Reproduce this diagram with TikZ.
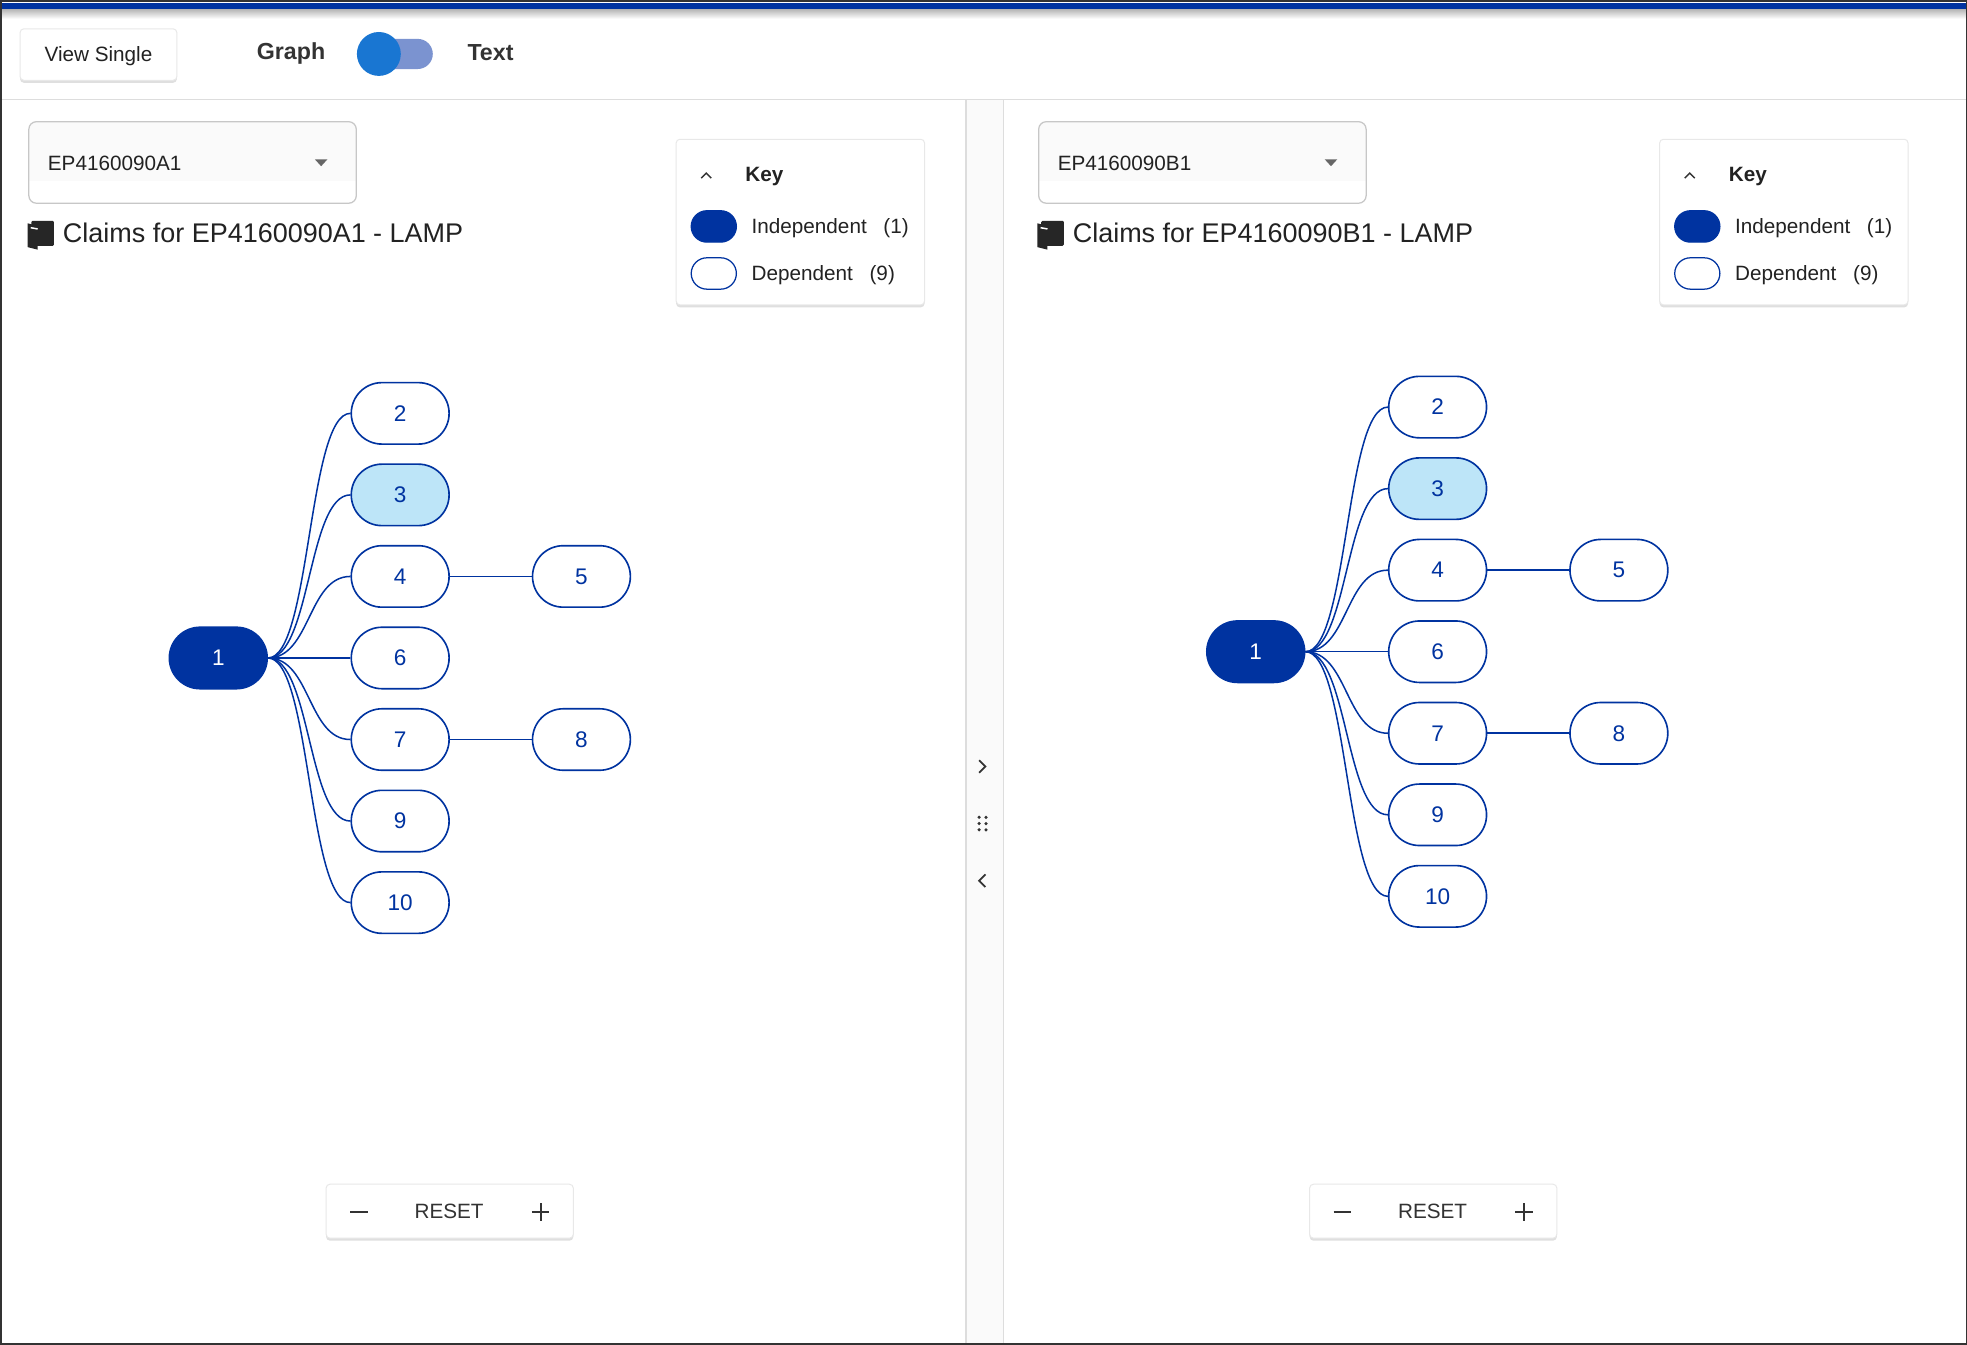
\documentclass[tikz,border=0pt]{standalone}
\usepackage{fontspec}
\setmainfont{Liberation Sans}
\usepackage{tikz}
\usetikzlibrary{shadows}
\definecolor{claimblue}{HTML}{0033A0}
\definecolor{claimlight}{HTML}{BDE5F8}
\definecolor{knobblue}{HTML}{1976D2}
\definecolor{trackblue}{HTML}{7B93D0}
\definecolor{uigray}{HTML}{DDDDDD}
\definecolor{uitext}{HTML}{222222}
\tikzset{claim/.style={draw=claimblue,line width=1.3pt,fill=white,rounded corners=24.5pt,
    minimum width=78pt,minimum height=49pt,inner sep=0pt,text=claimblue,font=\fontsize{18}{20}\selectfont}}
\tikzset{indep/.style={claim,fill=claimblue,text=white}}
\tikzset{hilite/.style={claim,fill=claimlight}}
\tikzset{swatch/.style={draw=claimblue,line width=1pt,rounded corners=12.5pt,minimum width=36pt,minimum height=25pt,inner sep=0pt}}
\tikzset{link/.style={draw=claimblue,line width=1.2pt}}
\tikzset{card/.style={fill=white,draw=black!9,line width=0.8pt,rounded corners=3pt,drop shadow={opacity=0.25,shadow xshift=0pt,shadow yshift=-2pt}}}
\tikzset{ui label/.style={inner sep=0pt,text=uitext,font=\fontsize{16.5}{20}\selectfont}}
\def\uibold{\bfseries\fontsize{18.5}{22}\selectfont}

\begin{document}
\begin{tikzpicture}[x=1pt,y=-1pt]

  \useasboundingbox (0,0) rectangle (1568,1072);
  \fill[white] (0,0) rectangle (1568,1072);

  \def \headerBottom{79.5}
  \def \dividerLeft{770}
  \def \dividerRight{800}

  \shade[top color=black!30,bottom color=white] (0,7) rectangle (1568,15);
  \fill[claimblue] (0,2) rectangle (1568,7);
  \draw[uigray,line width=1pt] (0,\headerBottom) -- (1568,\headerBottom);

  \path[card] (16,23) rectangle (141,64);
  \node[ui label] (viewsingle) at (78.5,45) {View Single};
  \node[ui label,font=\uibold,text=black!80] (graph) at (232,42.5) {Graph};
  \fill[trackblue,rounded corners=12pt] (292,31) rectangle (345,55);
  \fill[knobblue] (302,43) circle (17.5pt);
  \node[ui label,font=\uibold,text=black!80] (text) at (391,42) {Text};

  \fill[black!2] (\dividerLeft,\headerBottom) rectangle (\dividerRight,1072);
  \draw[uigray,line width=1pt] (\dividerLeft,\headerBottom) -- (\dividerLeft,1072);
  \draw[uigray,line width=1pt] (\dividerRight,\headerBottom) -- (\dividerRight,1072);
  \draw[black!80,line width=1.4pt] (780.5,606) -- (785.5,611) -- (780.5,616);
  \draw[black!80,line width=1.4pt] (785.5,697) -- (780.5,702) -- (785.5,707);
  \fill[black!80] (780.5,651.5) circle (1.4pt) (786,651.5) circle (1.4pt)
                  (780.5,656.5) circle (1.4pt) (786,656.5) circle (1.4pt)
                  (780.5,661.5) circle (1.4pt) (786,661.5) circle (1.4pt);

  \foreach \p/\doc/\dx/\kx/\gx/\gy in {L/A1/0/0/0/0,R/B1/805/784/827/5}{
    \begin{scope}[xshift=\dx pt]
      \begin{scope}
        \clip[rounded corners=6pt] (23,97) rectangle (284,162);
        \fill[black!2] (23,97) rectangle (284,144);
      \end{scope}
      \draw[black!22,line width=1pt,rounded corners=6pt] (23,97) rectangle (284,162);
      \node[ui label,anchor=west] (\p-doc) at (38,130.5) {EP4160090\doc};
      \fill[black!60] (251,127) -- (261,127) -- (256,132.5) -- cycle;
      \fill[black!85,rounded corners=1pt] (25,176) rectangle (43,196);
      \fill[black!85] (22,178) -- (30,180) -- (30,199) -- (22,197) -- cycle;
      \draw[white,line width=1.2pt] (24.5,181.5) -- (30,182.5);
      \node[ui label,anchor=west,font=\fontsize{21.5}{24}\selectfont] (\p-title) at (50,185.5) {Claims for EP4160090\doc{} - LAMP};
    \end{scope}

    \begin{scope}[xshift=\kx pt]
      \path[card] (539,111) rectangle (737,243);
      \draw[black!80,line width=1.2pt] (559,142) -- (563,138) -- (567,142);
      \node[ui label,anchor=west,font=\bfseries\fontsize{16.5}{20}\selectfont] (\p-key) at (594,140.5) {Key};
      \node[swatch,fill=claimblue] (\p-indep) at (569,180.5) {};
      \node[ui label,anchor=west] (\p-indeptext) at (599,182) {Independent};
      \node[ui label,anchor=west] (\p-indepcount) at (704,182) {(1)};
      \node[swatch,fill=white] (\p-dep) at (569,218) {};
      \node[ui label,anchor=west] (\p-deptext) at (599,219.5) {Dependent};
      \node[ui label,anchor=west] (\p-depcount) at (693,219.5) {(9)};

      \path[card] (260,944) rectangle (457,987);
      \draw[black!80,line width=1.6pt] (279,966) -- (293,966);
      \node[ui label,text=black!80] (\p-reset) at (358,966) {RESET};
      \draw[black!80,line width=1.6pt] (424,966) -- (438,966) (431,959) -- (431,973);
    \end{scope}

    \begin{scope}[xshift=\gx pt,yshift=\gy pt]
      \node[indep] (\p1) at (174,524.5) {1};
      \node[claim] (\p2) at (319,329.5) {2};
      \node[hilite] (\p3) at (319,394.5) {3};
      \node[claim] (\p4) at (319,459.5) {4};
      \node[claim] (\p5) at (463.5,459.5) {5};
      \node[claim] (\p6) at (319,524.5) {6};
      \node[claim] (\p7) at (319,589.5) {7};
      \node[claim] (\p8) at (463.5,589.5) {8};
      \node[claim] (\p9) at (319,654.5) {9};
      \node[claim] (\p10) at (319,719.5) {10};
      \foreach \n in {2,3,4,6,7,9,10}
        \draw[link] (\p1.east) .. controls +(34,0) and +(-34,0) .. (\p\n.west);
      \draw[link] (\p4) -- (\p5);
      \draw[link] (\p7) -- (\p8);
    \end{scope}
  }

  \draw[black!80,line width=1.2pt] (0.6,0.6) rectangle (1567.4,1071.4);

\end{tikzpicture}
\end{document}
